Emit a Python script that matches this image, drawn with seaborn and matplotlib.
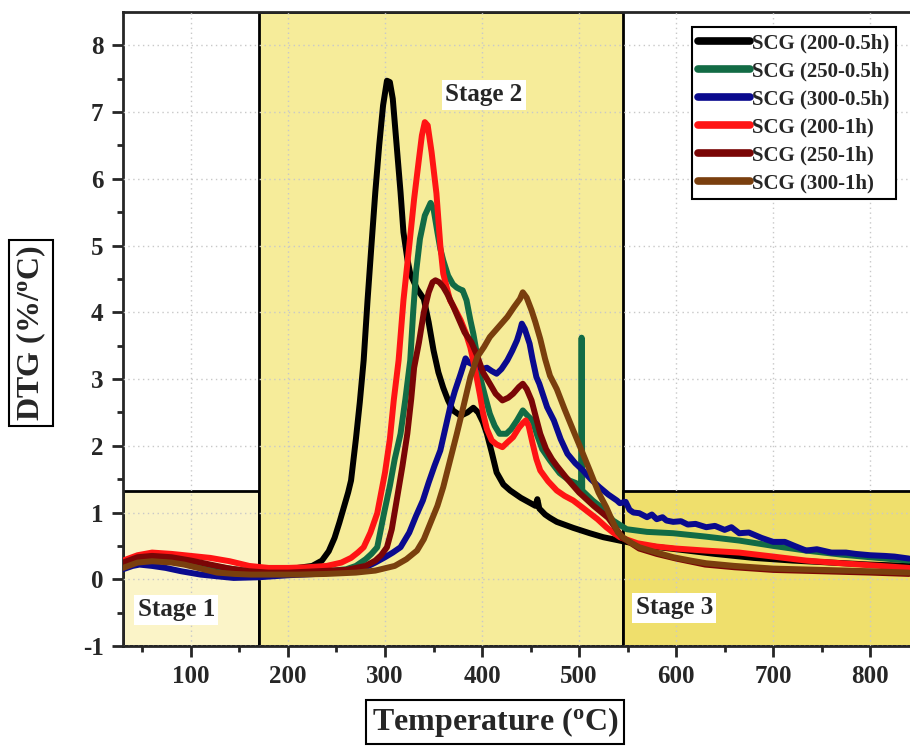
import numpy as np
import pandas as pd
import matplotlib
matplotlib.use("Agg")
import matplotlib.pyplot as plt
from matplotlib.patches import Rectangle
import seaborn as sns

# ---- DTG curves: temperature (°C) and weight-loss rate (%/°C) ----
samples = ["SCG (200-0.5h)", "SCG (250-0.5h)", "SCG (300-0.5h)",
           "SCG (200-1h)", "SCG (250-1h)", "SCG (300-1h)"]
colors = ["#000000", "#126B45", "#0A0A8E", "#FF1414", "#7A0606", "#7A3F0E"]

t_200_05 = [30, 45, 60, 80, 100, 120, 140, 160, 180, 200, 215, 225, 235, 242, 248, 253, 258,
            262, 265, 270, 274, 278, 282, 286, 290, 294, 298, 302, 305, 308, 312, 316, 319, 323,
            326, 333, 340, 345, 350, 355, 360, 365, 370, 378, 385, 391, 396, 401, 405, 410,
            415, 422, 429, 440, 450, 455, 457, 459, 465, 470, 477, 494, 511, 525, 545, 570,
            600, 640, 680, 720, 760, 800, 840]
d_200_05 = [0.22, 0.27, 0.29, 0.27, 0.22, 0.17, 0.12, 0.10, 0.11, 0.15, 0.18, 0.20, 0.28, 0.42,
            0.62, 0.85, 1.10, 1.30, 1.48, 2.10, 2.65, 3.28, 4.18, 5.00, 5.80, 6.50, 7.10, 7.47,
            7.45, 7.20, 6.50, 5.80, 5.20, 4.80, 4.58, 4.35, 4.20, 3.85, 3.43, 3.10, 2.87, 2.68,
            2.53, 2.45, 2.50, 2.57, 2.50, 2.35, 2.18, 1.90, 1.60, 1.42, 1.33, 1.22, 1.14, 1.10,
            1.20, 1.06, 0.97, 0.92, 0.86, 0.77, 0.69, 0.63, 0.57, 0.50, 0.45, 0.38, 0.32, 0.28,
            0.25, 0.22, 0.20]

t_250_05 = [30, 45, 60, 80, 100, 120, 140, 160, 180, 200, 220, 240, 260, 270, 280, 286, 292,
            299, 305, 310, 316, 321, 326, 329, 332, 336, 341, 347, 350, 354, 357, 360, 365, 370,
            374, 378, 380, 384, 388, 391, 395, 398, 403, 408, 413, 418, 425, 430, 436, 442, 447,
            452, 457, 462, 470, 480, 490, 497, 502, 502.6, 503.2, 514, 521, 528, 535, 549, 570,
            597, 630, 665, 700, 734, 770, 800, 840]
d_250_05 = [0.20, 0.28, 0.32, 0.30, 0.25, 0.20, 0.16, 0.12, 0.08, 0.08, 0.10, 0.12, 0.15, 0.20,
            0.30, 0.38, 0.48, 0.99, 1.40, 1.80, 2.18, 2.70, 3.28, 4.00, 4.60, 5.10, 5.45, 5.64,
            5.55, 5.20, 4.95, 4.78, 4.55, 4.42, 4.37, 4.34, 4.33, 4.18, 3.88, 3.68, 3.35, 3.03,
            2.75, 2.48, 2.30, 2.18, 2.18, 2.25, 2.38, 2.53, 2.45, 2.38, 2.15, 1.95, 1.78, 1.59,
            1.48, 1.44, 1.36, 3.62, 1.33, 1.18, 1.10, 1.00, 0.88, 0.75, 0.71, 0.69, 0.64, 0.58,
            0.50, 0.43, 0.37, 0.33, 0.28]

t_300_05 = [30, 40, 47, 60, 74, 90, 110, 130, 144, 170, 200, 230, 260, 280, 290, 300, 308, 316,
            325, 332, 339, 345, 351, 357, 362, 367, 372, 378, 383, 386, 390, 395, 400, 405, 410,
            415, 420, 426, 431, 436, 439, 441, 444, 449, 452, 456, 459, 467, 474, 481, 488, 496,
            504, 512, 521, 530, 539, 542, 548, 552, 556, 562, 570, 575, 580, 586, 590, 597, 605,
            612, 620, 631, 640, 650, 657, 665, 675, 688, 700, 712, 722, 734, 745, 760, 775, 785,
            800, 815, 825, 840]
d_300_05 = [0.15, 0.20, 0.22, 0.20, 0.17, 0.12, 0.07, 0.04, 0.02, 0.03, 0.06, 0.08, 0.12, 0.18,
            0.25, 0.33, 0.40, 0.48, 0.70, 0.95, 1.18, 1.45, 1.70, 1.93, 2.25, 2.57, 2.82, 3.08,
            3.31, 3.25, 3.22, 3.20, 3.15, 3.17, 3.12, 3.08, 3.15, 3.28, 3.42, 3.58, 3.72, 3.83,
            3.75, 3.53, 3.30, 3.03, 2.93, 2.58, 2.38, 2.10, 1.88, 1.74, 1.63, 1.50, 1.38, 1.27,
            1.18, 1.14, 1.16, 1.04, 1.00, 0.99, 0.93, 0.97, 0.90, 0.93, 0.88, 0.86, 0.87, 0.82,
            0.83, 0.78, 0.80, 0.74, 0.78, 0.69, 0.70, 0.62, 0.56, 0.56, 0.50, 0.43, 0.45, 0.40,
            0.40, 0.38, 0.36, 0.35, 0.34, 0.31]

t_200_1 = [30, 45, 60, 80, 100, 120, 140, 160, 180, 200, 220, 240, 255, 265, 272, 278, 285,
           292, 300, 305, 309, 314, 319, 325, 330, 335, 338, 341, 344, 348, 353, 357, 360, 364,
           367, 372, 378, 383, 388, 392, 395, 398, 401, 405, 410, 415, 421, 426, 432, 438, 442,
           445, 448, 452, 456, 460, 468, 477, 485, 494, 503, 511, 519, 528, 535, 542, 560, 580,
           600, 630, 665, 700, 734, 770, 800, 840]
d_200_1 = [0.28, 0.36, 0.40, 0.38, 0.35, 0.32, 0.27, 0.20, 0.17, 0.17, 0.18, 0.20, 0.25, 0.32,
           0.40, 0.48, 0.70, 0.99, 1.60, 2.10, 2.68, 3.28, 4.18, 5.00, 5.70, 6.30, 6.65, 6.85,
           6.80, 6.40, 5.78, 5.00, 4.58, 4.35, 4.18, 4.05, 3.88, 3.70, 3.47, 3.20, 2.98, 2.75,
           2.49, 2.25, 2.08, 2.02, 1.98, 2.05, 2.13, 2.27, 2.34, 2.38, 2.30, 2.04, 1.80, 1.63,
           1.47, 1.33, 1.25, 1.18, 1.08, 0.99, 0.90, 0.78, 0.70, 0.63, 0.54, 0.49, 0.46, 0.43,
           0.40, 0.34, 0.28, 0.24, 0.21, 0.17]

t_250_1 = [30, 45, 60, 80, 100, 120, 140, 160, 180, 200, 230, 260, 280, 290, 296, 302, 307,
           312, 318, 323, 327, 330, 335, 340, 345, 349, 352, 356, 360, 364, 370, 376, 382, 389,
           395, 401, 408, 414, 421, 427, 432, 438, 442, 446, 451, 456, 460, 466, 472, 477, 488,
           500, 515, 530, 545, 562, 580, 600, 630, 660, 700, 750, 800, 840]
d_250_1 = [0.25, 0.33, 0.35, 0.33, 0.28, 0.22, 0.16, 0.12, 0.10, 0.10, 0.12, 0.14, 0.20, 0.28,
           0.36, 0.48, 0.75, 1.18, 1.70, 2.18, 2.70, 3.17, 3.55, 4.00, 4.30, 4.45, 4.48, 4.45,
           4.38, 4.28, 4.10, 3.90, 3.70, 3.55, 3.35, 3.10, 2.93, 2.78, 2.68, 2.72, 2.78, 2.88,
           2.93, 2.85, 2.68, 2.40, 2.18, 1.95, 1.80, 1.70, 1.50, 1.30, 1.10, 0.92, 0.62, 0.46,
           0.38, 0.31, 0.22, 0.18, 0.14, 0.12, 0.10, 0.08]

t_300_1 = [30, 45, 60, 80, 93, 110, 127, 145, 162, 185, 210, 240, 270, 290, 310, 322, 333, 340,
           347, 354, 360, 367, 374, 381, 388, 395, 402, 408, 417, 426, 433, 439, 442, 446, 451,
           455, 460, 465, 470, 477, 485, 494, 502, 511, 520, 528, 535, 540, 545, 553, 562, 580,
           597, 615, 631, 660, 700, 750, 800, 840]
d_300_1 = [0.17, 0.25, 0.27, 0.25, 0.22, 0.16, 0.10, 0.08, 0.07, 0.07, 0.07, 0.08, 0.10, 0.13,
           0.20, 0.30, 0.43, 0.60, 0.85, 1.10, 1.38, 1.78, 2.18, 2.60, 3.03, 3.33, 3.48, 3.63,
           3.78, 3.93, 4.08, 4.20, 4.30, 4.22, 4.03, 3.85, 3.60, 3.30, 3.05, 2.85, 2.55, 2.23,
           1.95, 1.63, 1.30, 1.08, 0.85, 0.70, 0.63, 0.55, 0.48, 0.40, 0.33, 0.28, 0.24, 0.20,
           0.16, 0.14, 0.12, 0.10]

temps = [t_200_05, t_250_05, t_300_05, t_200_1, t_250_1, t_300_1]
rates = [d_200_05, d_250_05, d_300_05, d_200_1, d_250_1, d_300_1]

# Decomposition stages: (T start, T end, DTG top, fill)
stage_names = ["Stage 1", "Stage 2", "Stage 3"]
stage_bounds = [(30, 170, 1.32, "#FBF4C8"), (170, 545, 8.5, "#F6EC9A"), (545, 850, 1.32, "#EFDF6C")]
stage_text_pos = [(85, -0.46), (402, 7.26), (598, -0.43)]

df = pd.concat(
    [pd.DataFrame({"Temperature": t, "DTG": d, "Sample": s})
     for t, d, s in zip(temps, rates, samples)],
    ignore_index=True,
)

# ---- styling ----
sns.set_style("ticks")
plt.rcParams["font.family"] = ["Liberation Serif", "DejaVu Serif"]
plt.rcParams["font.weight"] = "bold"
plt.rcParams["axes.unicode_minus"] = False
plt.rcParams["mathtext.fontset"] = "custom"
plt.rcParams["mathtext.rm"] = "Liberation Serif:bold"
plt.rcParams["mathtext.bf"] = "Liberation Serif:bold"
plt.rcParams["mathtext.it"] = "Liberation Serif:bold"

fig = plt.figure(figsize=(9.1, 7.5), dpi=100)
ax = fig.add_axes([123 / 910, 104 / 750, 787 / 910, 634 / 750])

# stage backgrounds
for (x0, x1, top, fc) in stage_bounds:
    ax.add_patch(Rectangle((x0, -1), x1 - x0, top + 1, facecolor=fc, edgecolor="black",
                           linewidth=2.0, zorder=0.2))

sns.lineplot(data=df, x="Temperature", y="DTG", hue="Sample", hue_order=samples,
             palette=colors, estimator=None, sort=False, linewidth=4.3, ax=ax,
             solid_capstyle="round", solid_joinstyle="round", zorder=3)

ax.set_xlim(30, 841)
ax.set_ylim(-1, 8.5)
ax.set_xticks(range(100, 900, 100))
ax.set_xticks(range(50, 850, 100), minor=True)
ax.set_yticks(range(-1, 9))
ax.set_yticks(np.arange(-0.5, 8.5, 1.0), minor=True)
ax.grid(True, which="major", color="#C8C8C8", linestyle=(0, (1, 2.5)), linewidth=1.0, zorder=0.5)
ax.set_axisbelow(False)
for gl in ax.get_xgridlines() + ax.get_ygridlines():
    gl.set_zorder(0.5)

ax.tick_params(axis="both", which="major", direction="out", length=8, width=2,
               labelsize=18)
ax.tick_params(axis="both", which="minor", direction="out", length=4.5, width=2)
ax.tick_params(axis="y", which="major", pad=6)
ax.tick_params(axis="x", which="major", pad=6)
for lab in ax.get_xticklabels() + ax.get_yticklabels():
    lab.set_fontweight("bold")

for side in ["left", "bottom", "top"]:
    ax.spines[side].set_linewidth(2.0)
ax.spines["right"].set_visible(False)

for name, (tx, ty) in zip(stage_names, stage_text_pos):
    ax.text(tx, ty, name, fontsize=18, fontweight="bold", ha="center", va="center",
            bbox=dict(facecolor="white", edgecolor="none", pad=2.5), zorder=5)

ax.set_xlabel("Temperature ($^{o}$C)", fontsize=23, fontweight="bold",
              bbox=dict(facecolor="white", edgecolor="black", linewidth=1.5, pad=4))
ax.xaxis.set_label_coords((495 - 123) / 787, (646 - 722) / 634)
ax.xaxis.label.set_va("center")
ax.set_ylabel("DTG (%/$^{o}$C)", fontsize=23, fontweight="bold",
              bbox=dict(facecolor="white", edgecolor="black", linewidth=1.5, pad=4))
ax.yaxis.set_label_coords((31 - 123) / 787, (646 - 333) / 634)
ax.yaxis.label.set_va("center")

handles, labels = ax.get_legend_handles_labels()
leg = ax.legend(handles, labels, loc="upper right", bbox_to_anchor=(0.982, 0.976),
                prop={"family": "Liberation Serif", "weight": "bold", "size": 15},
                frameon=True, fancybox=False, framealpha=1, edgecolor="black",
                handlelength=2.5, handletextpad=0.1, labelspacing=0.38, borderpad=0.3,
                borderaxespad=0)
leg.get_frame().set_linewidth(1.5)
for h in leg.get_lines():
    h.set_linewidth(5.5)
    h.set_solid_capstyle("round")
leg.set_zorder(6)

fig.savefig("out.png", dpi=100)
